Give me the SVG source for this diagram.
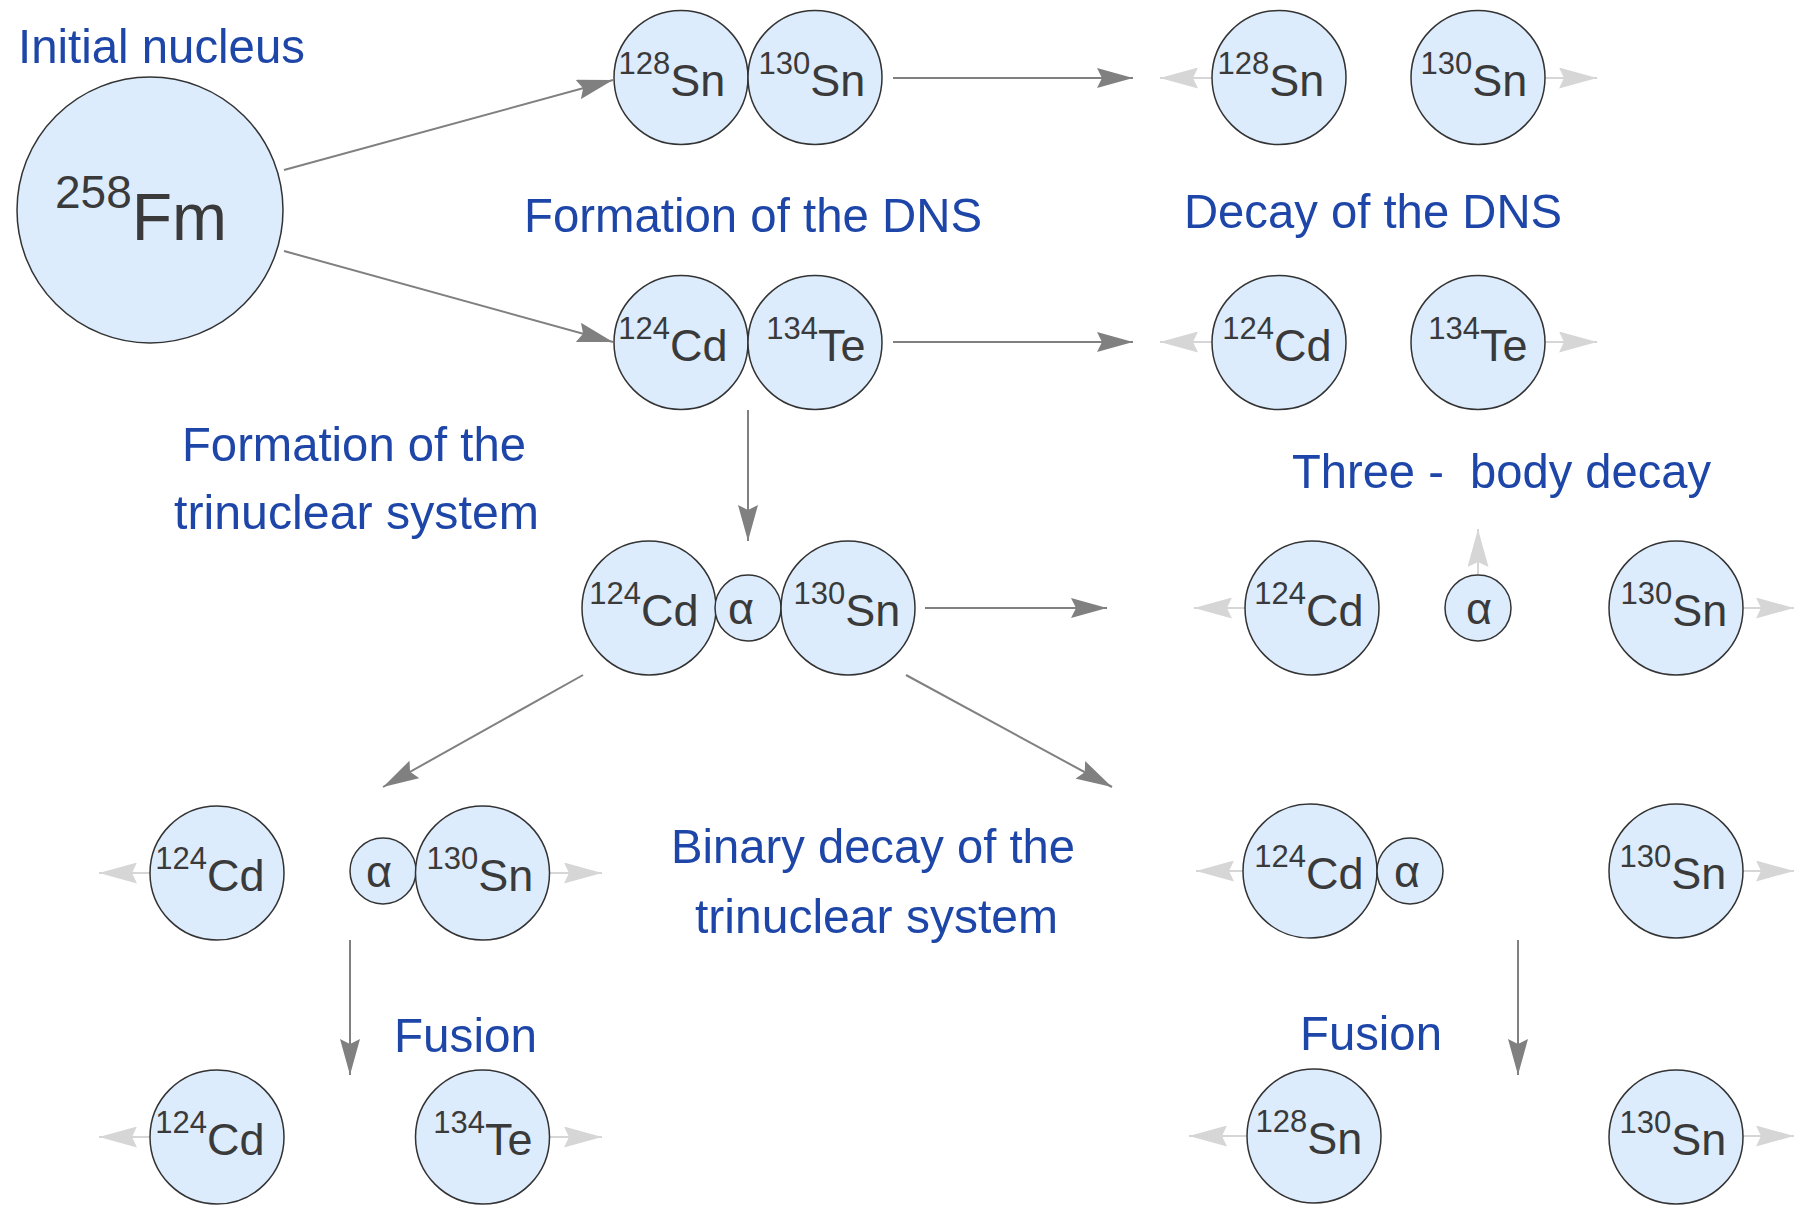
<svg xmlns="http://www.w3.org/2000/svg" width="1794" height="1208" viewBox="0 0 1794 1208">
<defs>
<style>
.nuc{fill:#dcecfd;stroke:#333;stroke-width:1.5}
.nt{font-family:"Liberation Sans",Arial,sans-serif;font-size:45px;fill:#3a3a3a;text-anchor:middle}
.sup{font-size:31px}
.lbl{font-family:"Liberation Sans",Arial,sans-serif;font-size:49px;fill:#1d46a8;white-space:pre}
.mid{text-anchor:middle}
.c{stroke:#808080;stroke-width:2;fill:none;marker-end:url(#ah)}
.cl{stroke:#d6d6d6;stroke-width:2;fill:none;marker-end:url(#ahl)}
</style>
<marker id="ah" markerUnits="userSpaceOnUse" markerWidth="36" markerHeight="20" refX="36" refY="10" orient="auto" viewBox="0 0 36 20"><path d="M0,0 L36,10 L0,20 L5,10 Z" fill="#808080"/></marker>
<marker id="ahl" markerUnits="userSpaceOnUse" markerWidth="38" markerHeight="21" refX="38" refY="10.5" orient="auto" viewBox="0 0 38 21"><path d="M0,0 L38,10.5 L0,21 L5,10.5 Z" fill="#d6d6d6"/></marker>
</defs>
<rect width="1794" height="1208" fill="#fff"/>

<g id="connectors">
<line class="c" x1="284" y1="170" x2="613" y2="80"/>
<line class="c" x1="284" y1="251" x2="613" y2="342"/>
<line class="c" x1="893" y1="78" x2="1133" y2="78"/>
<line class="c" x1="893" y1="342" x2="1133" y2="342"/>
<line class="c" x1="748" y1="410" x2="748" y2="541"/>
<line class="c" x1="925" y1="608" x2="1107" y2="608"/>
<line class="c" x1="583" y1="675" x2="383" y2="787"/>
<line class="c" x1="906" y1="675" x2="1112" y2="787"/>
<line class="c" x1="350" y1="940" x2="350" y2="1075"/>
<line class="c" x1="1518" y1="940" x2="1518" y2="1075"/>
<line class="cl" x1="1212" y1="78" x2="1160" y2="78"/>
<line class="cl" x1="1545" y1="78" x2="1597" y2="78"/>
<line class="cl" x1="1212" y1="342" x2="1160" y2="342"/>
<line class="cl" x1="1545" y1="342" x2="1597" y2="342"/>
<line class="cl" x1="1245" y1="608" x2="1194" y2="608"/>
<line class="cl" x1="1478" y1="575" x2="1478" y2="529"/>
<line class="cl" x1="1743" y1="608" x2="1794" y2="608"/>
<line class="cl" x1="150" y1="873" x2="99" y2="873"/>
<line class="cl" x1="549" y1="873" x2="602" y2="873"/>
<line class="cl" x1="1243" y1="871" x2="1196" y2="871"/>
<line class="cl" x1="1743" y1="871" x2="1794" y2="871"/>
<line class="cl" x1="150" y1="1137" x2="99" y2="1137"/>
<line class="cl" x1="549" y1="1137" x2="602" y2="1137"/>
<line class="cl" x1="1247" y1="1136" x2="1189" y2="1136"/>
<line class="cl" x1="1743" y1="1136" x2="1794" y2="1136"/>
</g>

<g id="labels">
<text class="lbl" x="18" y="63" textLength="287" lengthAdjust="spacingAndGlyphs">Initial nucleus</text>
<text class="lbl" x="524" y="232" textLength="458" lengthAdjust="spacingAndGlyphs">Formation of the DNS</text>
<text class="lbl" x="1184" y="228" textLength="378" lengthAdjust="spacingAndGlyphs">Decay of the DNS</text>
<text class="lbl" x="182" y="461" textLength="344" lengthAdjust="spacingAndGlyphs">Formation of the</text>
<text class="lbl" x="174" y="529" textLength="365" lengthAdjust="spacingAndGlyphs">trinuclear system</text>
<text class="lbl" x="1292" y="488" textLength="419" lengthAdjust="spacingAndGlyphs">Three -  body decay</text>
<text class="lbl" x="671" y="863" textLength="404" lengthAdjust="spacingAndGlyphs">Binary decay of the</text>
<text class="lbl" x="695" y="933" textLength="363" lengthAdjust="spacingAndGlyphs">trinuclear system</text>
<text class="lbl" x="394" y="1052" textLength="143" lengthAdjust="spacingAndGlyphs">Fusion</text>
<text class="lbl" x="1300" y="1050" textLength="142" lengthAdjust="spacingAndGlyphs">Fusion</text>
</g>

<g id="node-fm"><circle class="nuc" cx="150" cy="210" r="133"/><text class="nt" x="141" y="240" style="font-size:66px"><tspan style="font-size:46px" dy="-32">258</tspan><tspan dy="32">Fm</tspan></text></g>

<g id="node-dns1-sn128"><circle class="nuc" cx="681" cy="77.5" r="67"/><text class="nt" x="672" y="96"><tspan class="sup" dy="-22">128</tspan><tspan dy="22">Sn</tspan></text></g>
<g id="node-dns1-sn130"><circle class="nuc" cx="815" cy="77.5" r="67"/><text class="nt" x="812" y="96"><tspan class="sup" dy="-22">130</tspan><tspan dy="22">Sn</tspan></text></g>
<g id="node-dec1-sn128"><circle class="nuc" cx="1279" cy="77.5" r="67"/><text class="nt" x="1271" y="96"><tspan class="sup" dy="-22">128</tspan><tspan dy="22">Sn</tspan></text></g>
<g id="node-dec1-sn130"><circle class="nuc" cx="1478" cy="77.5" r="67"/><text class="nt" x="1474" y="96"><tspan class="sup" dy="-22">130</tspan><tspan dy="22">Sn</tspan></text></g>

<g id="node-dns2-cd124"><circle class="nuc" cx="681" cy="342.5" r="67"/><text class="nt" x="673" y="361"><tspan class="sup" dy="-22">124</tspan><tspan dy="22">Cd</tspan></text></g>
<g id="node-dns2-te134"><circle class="nuc" cx="815" cy="342.5" r="67"/><text class="nt" x="816" y="361"><tspan class="sup" dy="-22">134</tspan><tspan dy="22">Te</tspan></text></g>
<g id="node-dec2-cd124"><circle class="nuc" cx="1279" cy="342.5" r="67"/><text class="nt" x="1277" y="361"><tspan class="sup" dy="-22">124</tspan><tspan dy="22">Cd</tspan></text></g>
<g id="node-dec2-te134"><circle class="nuc" cx="1478" cy="342.5" r="67"/><text class="nt" x="1478" y="361"><tspan class="sup" dy="-22">134</tspan><tspan dy="22">Te</tspan></text></g>

<g id="node-tri-cd124"><circle class="nuc" cx="649" cy="608" r="67"/><text class="nt" x="644" y="626"><tspan class="sup" dy="-22">124</tspan><tspan dy="22">Cd</tspan></text></g>
<g id="node-tri-alpha"><circle class="nuc" cx="748" cy="608" r="33"/><text class="nt" x="741" y="624">α</text></g>
<g id="node-tri-sn130"><circle class="nuc" cx="848" cy="608" r="67"/><text class="nt" x="847" y="626"><tspan class="sup" dy="-22">130</tspan><tspan dy="22">Sn</tspan></text></g>
<g id="node-three-cd124"><circle class="nuc" cx="1312" cy="608" r="67"/><text class="nt" x="1309" y="626"><tspan class="sup" dy="-22">124</tspan><tspan dy="22">Cd</tspan></text></g>
<g id="node-three-alpha"><circle class="nuc" cx="1478" cy="608" r="33"/><text class="nt" x="1479" y="624">α</text></g>
<g id="node-three-sn130"><circle class="nuc" cx="1676" cy="608" r="67"/><text class="nt" x="1674" y="626"><tspan class="sup" dy="-22">130</tspan><tspan dy="22">Sn</tspan></text></g>

<g id="node-binl-cd124"><circle class="nuc" cx="217" cy="873" r="67"/><text class="nt" x="210" y="891"><tspan class="sup" dy="-22">124</tspan><tspan dy="22">Cd</tspan></text></g>
<g id="node-binl-alpha"><circle class="nuc" cx="383" cy="871" r="33"/><text class="nt" x="379" y="887">α</text></g>
<g id="node-binl-sn130"><circle class="nuc" cx="482.5" cy="873" r="67"/><text class="nt" x="480" y="891"><tspan class="sup" dy="-22">130</tspan><tspan dy="22">Sn</tspan></text></g>
<g id="node-binr-cd124"><circle class="nuc" cx="1310" cy="871" r="67"/><text class="nt" x="1309" y="889"><tspan class="sup" dy="-22">124</tspan><tspan dy="22">Cd</tspan></text></g>
<g id="node-binr-alpha"><circle class="nuc" cx="1410" cy="871" r="33"/><text class="nt" x="1407" y="887">α</text></g>
<g id="node-binr-sn130"><circle class="nuc" cx="1676" cy="871" r="67"/><text class="nt" x="1673" y="889"><tspan class="sup" dy="-22">130</tspan><tspan dy="22">Sn</tspan></text></g>

<g id="node-fusl-cd124"><circle class="nuc" cx="217" cy="1137" r="67"/><text class="nt" x="210" y="1155"><tspan class="sup" dy="-22">124</tspan><tspan dy="22">Cd</tspan></text></g>
<g id="node-fusl-te134"><circle class="nuc" cx="482.5" cy="1137" r="67"/><text class="nt" x="483" y="1155"><tspan class="sup" dy="-22">134</tspan><tspan dy="22">Te</tspan></text></g>
<g id="node-fusr-sn128"><circle class="nuc" cx="1314" cy="1136" r="67"/><text class="nt" x="1309" y="1154"><tspan class="sup" dy="-22">128</tspan><tspan dy="22">Sn</tspan></text></g>
<g id="node-fusr-sn130"><circle class="nuc" cx="1676" cy="1137" r="67"/><text class="nt" x="1673" y="1155"><tspan class="sup" dy="-22">130</tspan><tspan dy="22">Sn</tspan></text></g>
</svg>
